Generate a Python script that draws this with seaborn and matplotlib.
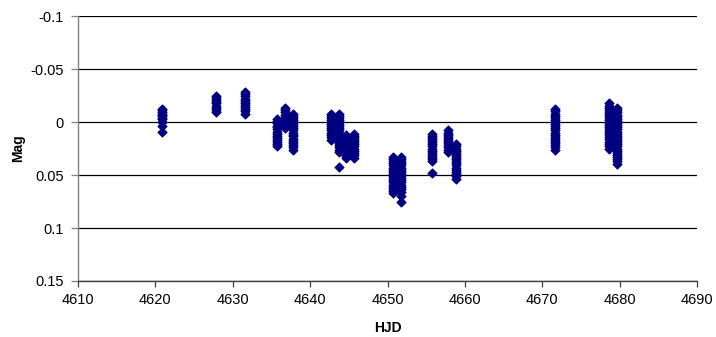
import matplotlib
matplotlib.use("Agg")
import matplotlib.pyplot as plt
import seaborn as sns
import pandas as pd

# Heliocentric Julian Date of each observing night (HJD - 2450000)
night_hjd = [4620.8, 4627.8, 4631.6, 4635.7, 4636.7, 4637.8, 4642.7, 4643.7,
             4644.7, 4645.7, 4650.7, 4651.7, 4655.7, 4657.8, 4658.8, 4671.7,
             4678.6, 4679.7]

# Differential magnitudes measured on each night
night_mag = [
    [-0.012, -0.011, -0.0095, -0.008, -0.007, -0.0055, -0.004, -0.003, 0.000, 0.004, 0.009],
    [-0.0245, -0.023, -0.021, -0.019, -0.0175, -0.0155, -0.0135, -0.0115, -0.0095],
    [-0.028, -0.026, -0.0245, -0.022, -0.020, -0.018, -0.0165, -0.014, -0.012, -0.010, -0.0075],
    [-0.003, -0.001, 0.001, 0.0035, 0.005, 0.007, 0.009, 0.011, 0.0135, 0.015, 0.017,
     0.019, 0.021, 0.023],
    [-0.013, -0.011, -0.009, -0.007, -0.005, -0.003, -0.0015, 0.001, 0.003, 0.0055],
    [-0.008, -0.006, -0.004, -0.002, 0.000, 0.002, 0.0035, 0.006, 0.008, 0.010, 0.012,
     0.0135, 0.016, 0.018, 0.020, 0.022, 0.024, 0.026],
    [-0.008, -0.006, -0.004, -0.002, 0.000, 0.002, 0.004, 0.006, 0.0075, 0.010, 0.012,
     0.014, 0.017],
    [-0.008, -0.006, -0.004, -0.002, 0.000, 0.002, 0.004, 0.006, 0.008, 0.010, 0.012,
     0.014, 0.016, 0.018, 0.020, 0.022, 0.024, 0.026, 0.028, 0.042],
    [0.012, 0.014, 0.016, 0.018, 0.020, 0.022, 0.024, 0.026, 0.028, 0.030, 0.032, 0.034],
    [0.011, 0.013, 0.015, 0.017, 0.019, 0.021, 0.023, 0.025, 0.027, 0.029, 0.031, 0.034],
    [0.033, 0.035, 0.037, 0.039, 0.041, 0.043, 0.045, 0.047, 0.049, 0.051, 0.053, 0.055,
     0.057, 0.059, 0.061, 0.063, 0.065, 0.067],
    [0.033, 0.035, 0.037, 0.039, 0.041, 0.043, 0.045, 0.047, 0.049, 0.051, 0.053, 0.055,
     0.057, 0.059, 0.061, 0.063, 0.066, 0.070, 0.075],
    [0.011, 0.013, 0.015, 0.017, 0.019, 0.021, 0.023, 0.025, 0.027, 0.029, 0.031, 0.033,
     0.035, 0.037, 0.048],
    [0.008, 0.010, 0.012, 0.014, 0.016, 0.018, 0.020, 0.022, 0.024, 0.026, 0.028],
    [0.021, 0.023, 0.025, 0.027, 0.029, 0.031, 0.033, 0.035, 0.037, 0.039, 0.041, 0.043,
     0.045, 0.047, 0.049, 0.051, 0.054],
    [-0.012, -0.010, -0.008, -0.006, -0.004, -0.002, 0.000, 0.002, 0.004, 0.006, 0.008,
     0.010, 0.012, 0.014, 0.016, 0.018, 0.020, 0.022, 0.024, 0.026],
    [-0.0175, -0.0155, -0.0135, -0.0115, -0.0095, -0.0075, -0.0055, -0.0035, -0.0015,
     0.0005, 0.0025, 0.0045, 0.0065, 0.0085, 0.0105, 0.0125, 0.0145, 0.0165, 0.0185,
     0.0205, 0.0225, 0.0255],
    [-0.013, -0.011, -0.009, -0.007, -0.005, -0.003, -0.001, 0.001, 0.003, 0.005, 0.007,
     0.009, 0.011, 0.013, 0.015, 0.017, 0.019, 0.021, 0.023, 0.025, 0.027, 0.029, 0.031,
     0.033, 0.035, 0.037, 0.040],
]

y_ticks = [-0.1, -0.05, 0, 0.05, 0.1, 0.15]
y_tick_labels = ["-0.1", "-0.05", "0", "0.05", "0.1", "0.15"]
x_ticks = [4610, 4620, 4630, 4640, 4650, 4660, 4670, 4680, 4690]

rows = [(t, m) for t, mags in zip(night_hjd, night_mag) for m in mags]
df = pd.DataFrame(rows, columns=["HJD", "Mag"])

sns.set_theme(style="white")
plt.rcParams["font.family"] = ["Liberation Sans", "DejaVu Sans"]

fig = plt.figure(figsize=(7.16, 3.37), dpi=100)
ax = fig.add_axes([78 / 716, 1 - 281 / 337, (697 - 78) / 716, (281 - 16) / 337])

sns.scatterplot(data=df, x="HJD", y="Mag", marker="D", s=21, color="#000080",
                edgecolor="#000080", linewidth=0.8, ax=ax, zorder=3)

ax.set_xlim(4610, 4690)
ax.set_ylim(0.15, -0.1)
ax.set_xticks(x_ticks)
ax.set_xticklabels([str(v) for v in x_ticks])
ax.set_yticks(y_ticks)
ax.set_yticklabels(y_tick_labels)

ax.yaxis.grid(True, color="black", linewidth=0.9)
ax.xaxis.grid(False)
ax.set_axisbelow(True)

for side in ("top", "right"):
    ax.spines[side].set_visible(False)
ax.spines["left"].set_color("#808080")
ax.spines["left"].set_linewidth(1.0)
ax.spines["bottom"].set_color("#404040")
ax.spines["bottom"].set_linewidth(1.0)

ax.tick_params(axis="x", direction="out", length=4, width=0.9, color="#404040",
               labelsize=10.5, pad=5, labelcolor="black", bottom=True)
ax.tick_params(axis="y", direction="out", length=5, width=0.9, color="#808080",
               labelsize=10.5, pad=5, labelcolor="black", left=True)

ax.set_xlabel("HJD", fontsize=10, fontweight="bold", color="black")
ax.set_ylabel("Mag", fontsize=10, fontweight="bold", color="black")
ax.xaxis.label.set_va("center")
ax.yaxis.label.set_va("center")
ax.xaxis.set_label_coords(0.5, -(328 - 281) / 265)
ax.yaxis.set_label_coords(-(78 - 18) / 619, 0.5)

fig.savefig("out.png", dpi=100)
